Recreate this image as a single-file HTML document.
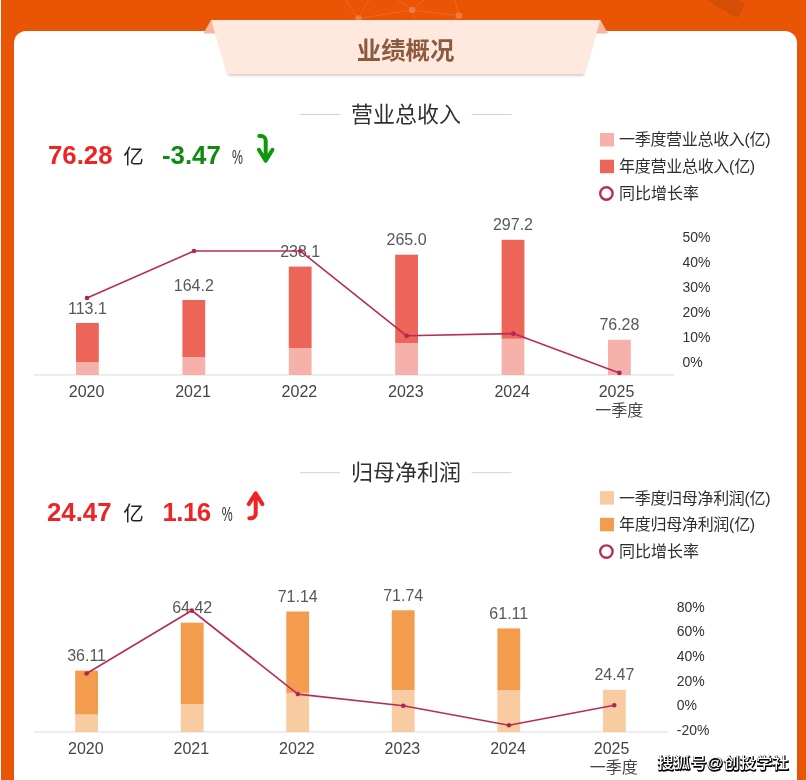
<!DOCTYPE html>
<html lang="zh-CN">
<head>
<meta charset="utf-8">
<title>业绩概况</title>
<style>
html,body{margin:0;padding:0;}
body{width:806px;height:780px;overflow:hidden;background:#e95504;position:relative;font-family:"Liberation Sans", "Noto Sans CJK SC", sans-serif;}
svg{position:absolute;left:0;top:0;display:block;}
text{font-family:"Liberation Sans", "Noto Sans CJK SC", sans-serif;}
.vl{font-size:16px;fill:#585858;text-anchor:middle;}
.yl{font-size:16px;fill:#444;text-anchor:middle;}
.rl{font-size:15px;fill:#333;}
.lg{font-size:16px;fill:#2e2e2e;}
.st{font-size:22px;fill:#303030;text-anchor:middle;}
.bt{font-size:24.4px;font-weight:bold;fill:#8c5a3e;text-anchor:middle;}
.num{font-size:25.8px;font-weight:bold;}
.yi{font-size:20.5px;fill:#222;}
.pc{font-size:20.5px;fill:#333;}
.wm{font-size:16px;font-weight:500;letter-spacing:0.4px;}
</style>
</head>
<body>
<svg width="806" height="780" viewBox="0 0 806 780">
<defs>
<filter id="sh" x="-5%" y="-10%" width="110%" height="130%"><feGaussianBlur stdDeviation="1.2"/></filter>
</defs>
<rect x="0" y="0" width="806" height="780" fill="#e95504"/>
<rect x="0" y="0" width="1" height="780" fill="#fff"/>
<!-- decorative network -->
<g stroke="#ee7337" stroke-width="0.9" fill="#ef7a40">
<g opacity="0.75"><line x1="412.2" y1="10" x2="459" y2="15.6"/><line x1="412.2" y1="10" x2="358.4" y2="18.5"/>
<line x1="358.4" y1="18.5" x2="345.7" y2="0"/><line x1="358.4" y1="18.5" x2="368.7" y2="0"/>
<line x1="412.2" y1="10" x2="398" y2="0"/><line x1="412.2" y1="10" x2="424" y2="0"/><line x1="412.2" y1="10" x2="415" y2="20"/>
<line x1="459" y1="15.6" x2="454.7" y2="0"/><line x1="459" y1="15.6" x2="454" y2="20"/></g>
<circle cx="412.2" cy="10" r="3.3" stroke="none"/><circle cx="459" cy="15.6" r="3.3" stroke="none"/><circle cx="358.4" cy="18.5" r="3.3" stroke="none"/>
</g>
<g transform="translate(737.3 18.3) rotate(31)"><rect x="-50" y="-16.2" width="50" height="16.2" rx="3.2" fill="#d44e06"/></g>
<!-- card -->
<path d="M14 780V43a12 12 0 0 1 12-12H785a12 12 0 0 1 12 12V780Z" fill="#fff"/>
<!-- banner -->
<polygon points="211,20 203.5,33.6 216,33.6" fill="#f4b99d"/>
<polygon points="600.5,20 608,33.6 595.5,33.6" fill="#f4b99d"/>
<polygon points="213,22 599,22 583.5,76 228.5,76" fill="#b9a79d" opacity="0.55" filter="url(#sh)"/>
<polygon points="211,20 600.5,20 584,74 227.5,74" fill="#ffe9df"/>
<text x="405.6" y="58.5" class="bt">业绩概况</text>

<rect x="300" y="114.0" width="40" height="1" fill="#d2d2d2"/>
<rect x="471.5" y="114.0" width="40" height="1" fill="#d2d2d2"/>
<text x="406" y="122.2" class="st">营业总收入</text>


<rect x="300" y="472.2" width="40" height="1" fill="#d2d2d2"/>
<rect x="471.5" y="472.2" width="40" height="1" fill="#d2d2d2"/>
<text x="406" y="480.4" class="st">归母净利润</text>

<!-- stats 1 -->
<text x="48" y="163.6" class="num" fill="#ee2424">76.28</text>
<text x="123.2" y="164.1" class="yi">亿</text>
<text x="162" y="163.8" class="num" fill="#118a11">-3.47</text>
<text x="0" y="0" class="pc" transform="translate(232 164) scale(0.6 1)">%</text>
<path d="M259.3 136.1h1.8a4.6 4.6 0 0 1 4.6 4.6V160M258.9 149.8l6.8 11 6.8-11" fill="none" stroke="#0a9a0a" stroke-width="4" stroke-linecap="round" stroke-linejoin="round"/>
<!-- stats 2 -->
<text x="47" y="521" class="num" fill="#ee2424">24.47</text>
<text x="123.2" y="521.4" class="yi">亿</text>
<text x="162.6" y="521" class="num" fill="#ee2424" textLength="48.4">1.16</text>
<text x="0" y="0" class="pc" transform="translate(221.7 521) scale(0.6 1)">%</text>
<path d="M249.3 518.3h1.8a4.6 4.6 0 0 0 4.6-4.6V494.2M248.8 504.1l6.8-10.8 6.8 10.8" fill="none" stroke="#ee2424" stroke-width="4" stroke-linecap="round" stroke-linejoin="round"/>

<rect x="600" y="133" width="14" height="13.5" fill="#f6b1aa"/>
<rect x="600" y="159.7" width="14" height="13.5" fill="#ed6458"/>
<circle cx="606.4" cy="193.5" r="6.2" fill="#fff" stroke="#b62d58" stroke-width="2.4"/>
<text x="619" y="145.4" class="lg" textLength="151.6">一季度营业总收入(亿)</text>
<text x="619" y="172.1" class="lg" textLength="136.2">年度营业总收入(亿)</text>
<text x="619" y="199.3" class="lg">同比增长率</text>


<rect x="600" y="491.1" width="14" height="13.5" fill="#f9cba0"/>
<rect x="600" y="517.8000000000001" width="14" height="13.5" fill="#f39c4e"/>
<circle cx="606.4" cy="551.6" r="6.2" fill="#fff" stroke="#b62d58" stroke-width="2.4"/>
<text x="619" y="503.5" class="lg" textLength="151.6">一季度归母净利润(亿)</text>
<text x="619" y="530.2" class="lg" textLength="136.2">年度归母净利润(亿)</text>
<text x="619" y="557.4" class="lg">同比增长率</text>

<rect x="34" y="373.9" width="640" height="1.9" fill="#ebebeb"/>
<rect x="76.0" y="323.0" width="22.8" height="39.0" fill="#ed6458"/>
<rect x="76.0" y="362.0" width="22.8" height="13.0" fill="#f6b1aa"/>
<rect x="182.4" y="300.0" width="22.8" height="57.0" fill="#ed6458"/>
<rect x="182.4" y="357.0" width="22.8" height="18.0" fill="#f6b1aa"/>
<rect x="288.8" y="266.6" width="22.8" height="81.4" fill="#ed6458"/>
<rect x="288.8" y="348.0" width="22.8" height="27.0" fill="#f6b1aa"/>
<rect x="395.2" y="254.7" width="22.8" height="88.3" fill="#ed6458"/>
<rect x="395.2" y="343.0" width="22.8" height="32.0" fill="#f6b1aa"/>
<rect x="501.6" y="239.8" width="22.8" height="99.0" fill="#ed6458"/>
<rect x="501.6" y="338.8" width="22.8" height="36.2" fill="#f6b1aa"/>
<rect x="608.0" y="339.8" width="22.8" height="35.2" fill="#f6b1aa"/>
<text x="87.4" y="313.5" class="vl">113.1</text>
<text x="193.8" y="290.5" class="vl">164.2</text>
<text x="300.2" y="257.1" class="vl">238.1</text>
<text x="406.6" y="245.2" class="vl">265.0</text>
<text x="513.0" y="230.3" class="vl">297.2</text>
<text x="619.4" y="330.3" class="vl">76.28</text>
<polyline points="87.0,298.0 194.0,251.0 300.3,251.0 406.7,335.8 513.4,333.6 619.4,372.9" fill="none" stroke="#b62d58" stroke-width="1.6" stroke-linejoin="round"/>
<circle cx="87.0" cy="298.0" r="2.3" fill="#b02554"/>
<circle cx="194.0" cy="251.0" r="2.3" fill="#b02554"/>
<circle cx="300.3" cy="251.0" r="2.3" fill="#b02554"/>
<circle cx="406.7" cy="335.8" r="2.3" fill="#b02554"/>
<circle cx="513.4" cy="333.6" r="2.3" fill="#b02554"/>
<circle cx="619.4" cy="372.9" r="2.3" fill="#b02554"/>
<text x="86.6" y="397" class="yl">2020</text>
<text x="193.0" y="397" class="yl">2021</text>
<text x="299.4" y="397" class="yl">2022</text>
<text x="405.8" y="397" class="yl">2023</text>
<text x="512.2" y="397" class="yl">2024</text>
<text x="616.5" y="397" class="yl">2025</text>
<text x="619.2" y="415.5" class="yl">一季度</text>
<g transform="translate(682.5 0) scale(0.933 1)">
<text x="0" y="242.1" class="rl">50%</text>
<text x="0" y="267.1" class="rl">40%</text>
<text x="0" y="292.1" class="rl">30%</text>
<text x="0" y="317.1" class="rl">20%</text>
<text x="0" y="342.1" class="rl">10%</text>
<text x="0" y="367.1" class="rl">0%</text>
</g>
<rect x="34" y="730.9" width="633.8" height="1.9" fill="#ebebeb"/>
<rect x="75.2" y="670.6" width="22.8" height="44.1" fill="#f39c4e"/>
<rect x="75.2" y="714.7" width="22.8" height="17.3" fill="#f9cba0"/>
<rect x="180.8" y="622.7" width="22.8" height="81.3" fill="#f39c4e"/>
<rect x="180.8" y="704.0" width="22.8" height="28.0" fill="#f9cba0"/>
<rect x="286.3" y="611.5" width="22.8" height="81.4" fill="#f39c4e"/>
<rect x="286.3" y="692.9" width="22.8" height="39.1" fill="#f9cba0"/>
<rect x="391.8" y="610.3" width="22.8" height="80.1" fill="#f39c4e"/>
<rect x="391.8" y="690.4" width="22.8" height="41.6" fill="#f9cba0"/>
<rect x="497.4" y="628.4" width="22.8" height="62.2" fill="#f39c4e"/>
<rect x="497.4" y="690.6" width="22.8" height="41.4" fill="#f9cba0"/>
<rect x="603.0" y="689.8" width="22.8" height="42.2" fill="#f9cba0"/>
<text x="86.6" y="661.1" class="vl">36.11</text>
<text x="192.2" y="613.2" class="vl">64.42</text>
<text x="297.7" y="602.0" class="vl">71.14</text>
<text x="403.2" y="600.8" class="vl">71.74</text>
<text x="508.8" y="618.9" class="vl">61.11</text>
<text x="614.4" y="680.3" class="vl">24.47</text>
<polyline points="86.6,673.5 191.8,610.5 297.8,694.1 403.3,705.8 509.0,725.2 614.2,705.2" fill="none" stroke="#b62d58" stroke-width="1.6" stroke-linejoin="round"/>
<circle cx="86.6" cy="673.5" r="2.3" fill="#b02554"/>
<circle cx="191.8" cy="610.5" r="2.3" fill="#b02554"/>
<circle cx="297.8" cy="694.1" r="2.3" fill="#b02554"/>
<circle cx="403.3" cy="705.8" r="2.3" fill="#b02554"/>
<circle cx="509.0" cy="725.2" r="2.3" fill="#b02554"/>
<circle cx="614.2" cy="705.2" r="2.3" fill="#b02554"/>
<text x="85.8" y="754" class="yl">2020</text>
<text x="191.3" y="754" class="yl">2021</text>
<text x="296.9" y="754" class="yl">2022</text>
<text x="402.4" y="754" class="yl">2023</text>
<text x="508.0" y="754" class="yl">2024</text>
<text x="611.6" y="754" class="yl">2025</text>
<text x="613.7" y="772.5" class="yl">一季度</text>
<g transform="translate(676.8 0) scale(0.933 1)">
<text x="0" y="611.8" class="rl">80%</text>
<text x="0" y="636.4" class="rl">60%</text>
<text x="0" y="661.0" class="rl">40%</text>
<text x="0" y="685.6" class="rl">20%</text>
<text x="0" y="710.2" class="rl">0%</text>
<text x="0" y="734.8" class="rl">-20%</text>
</g>
<g class="wm" transform="translate(0 768.1) scale(1 0.9)"><text x="658.1" y="0.6" fill="#000" stroke="#000" stroke-width="1.6" stroke-linejoin="round">搜狐号@创投学社</text><text x="657.6" y="0" fill="#fff">搜狐号@创投学社</text></g>
</svg>
</body>
</html>
